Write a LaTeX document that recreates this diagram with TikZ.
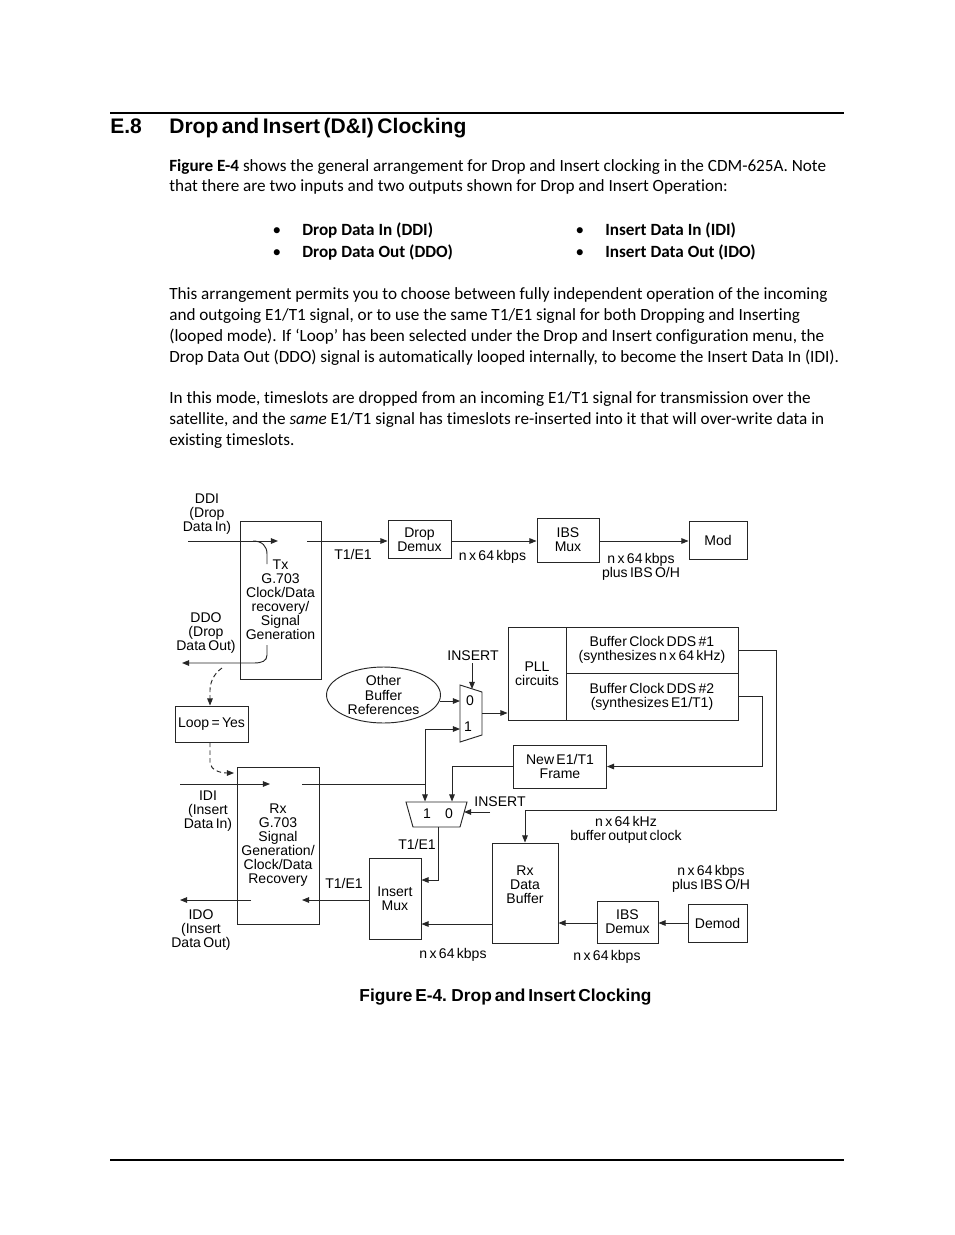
\documentclass[tikz,border=0pt]{standalone}
\usepackage{fontspec}
\setmainfont[Ligatures=NoCommon]{Carlito}
\newfontfamily\arial{Liberation Sans}
\newfontfamily\dfont[WordSpace=0.6]{Liberation Sans}
\usetikzlibrary{arrows.meta,shapes.geometric}
\begin{document}
\begin{tikzpicture}[x=0.64129pt,y=-0.64129pt,
 bx/.style 2 args={draw=black!85, line width=0.6pt, inner sep=0pt,
   minimum width=#1*0.64129pt, minimum height=#2*0.64129pt,
   font=\dfont\fontsize{9}{9}\selectfont, align=center},
 lbl/.style={inner sep=0pt, font=\dfont\fontsize{9}{9}\selectfont, align=center},
 conn/.style={draw=black!85, line width=0.6pt},
 arr/.style={conn, -{Triangle[length=4.6pt,width=3.6pt]}},
 dsh/.style={arr, dash pattern=on 3pt off 2pt},
 bodyt/.style={anchor=base west, inner sep=0pt, font=\fontsize{11}{13}\selectfont},
 bul/.style={anchor=base, inner sep=0pt, font=\fontsize{11}{13}\selectfont},
]
\fill[white] (0,0) rectangle (954,1235);
\useasboundingbox (0,0) rectangle (954,1235);

% page rules
\draw[line width=0.8pt] (110,113) -- (844,113);
\draw[line width=0.9pt] (110,1160) -- (844,1160);

% heading
\node[anchor=base west, inner sep=0pt, font=\arial\bfseries\fontsize{13.5}{16}\selectfont] (h1) at (110,133.5) {E.8};
\node[anchor=base west, inner sep=0pt, font=\arial\bfseries\fontsize{13.5}{16}\selectfont] (h2) at (169,133.5) {Drop and Insert (D\&I) Clocking};

% body text
\node[bodyt] (l1) at (169,172) {\textbf{Figure E-4} shows the general arrangement for Drop and Insert clocking in the CDM-625A. Note};
\node[bodyt] (l2) at (169,192) {that there are two inputs and two outputs shown for Drop and Insert Operation:};
\node[bul] (b1) at (277,235) {•};
\node[bul] (b2) at (277,257) {•};
\node[bul] (b3) at (580,235) {•};
\node[bul] (b4) at (580,257) {•};
\node[bodyt] (t1) at (302,235) {\textbf{Drop Data In (DDI)}};
\node[bodyt] (t2) at (302,257) {\textbf{Drop Data Out (DDO)}};
\node[bodyt] (t3) at (605,235) {\textbf{Insert Data In (IDI)}};
\node[bodyt] (t4) at (605,257) {\textbf{Insert Data Out (IDO)}};
\node[bodyt] (p1) at (169,299) {This arrangement permits you to choose between fully independent operation of the incoming};
\node[bodyt] (p2) at (169,320) {and outgoing E1/T1 signal, or to use the same T1/E1 signal for both Dropping and Inserting};
\node[bodyt] (p3) at (169,341) {(looped mode). If ‘Loop’ has been selected under the Drop and Insert configuration menu, the};
\node[bodyt] (p4) at (169,362) {Drop Data Out (DDO) signal is automatically looped internally, to become the Insert Data In (IDI).};
\node[bodyt] (q1) at (169,403) {In this mode, timeslots are dropped from an incoming E1/T1 signal for transmission over the};
\node[bodyt] (q2) at (169,424) {satellite, and the \textit{same} E1/T1 signal has timeslots re-inserted into it that will over-write data in};
\node[bodyt] (q3) at (169,445) {existing timeslots.};

% ---------- diagram blocks ----------
\node[bx={81}{158}] (tx) at (280.5,600) {Tx\\G.703\\Clock/Data\\recovery/\\Signal\\Generation};
\node[bx={82}{157}] (rx) at (278,845.5) {Rx\\G.703\\Signal\\Generation/\\Clock/Data\\Recovery};
\node[bx={63}{38}] (dd) at (419.5,539.5) {Drop\\Demux};
\node[bx={62}{44}] (ibsm) at (568,540) {IBS\\Mux};
\node[bx={58}{38}] (mod) at (718,540.5) {Mod};
\node[bx={58}{93}] (pll) at (537,673.5) {PLL\\circuits};
\node[bx={172}{46}] (dds1) at (652,650) {Buffer Clock DDS \#1\\(synthesizes n x 64 kHz)};
\node[bx={172}{47}] (dds2) at (652,696.5) {Buffer Clock DDS \#2\\(synthesizes E1/T1)};
\node[bx={114}{56}, ellipse] (other) at (383.5,695) {Other\\Buffer\\References};
\node[bx={73}{36}] (loop) at (211.5,724) {Loop = Yes};
\node[bx={93}{43}] (nf) at (560,766.5) {New E1/T1\\Frame};
\node[bx={52}{81}] (im) at (395,898.5) {Insert\\Mux};
\node[bx={66}{100}] (rdb) at (525,893) {};
\node[lbl] (rdbt) at (525,885) {Rx\\Data\\Buffer};
\node[bx={61}{42}] (ibsd) at (627.5,922) {IBS\\Demux};
\node[bx={59}{38}] (demod) at (717.5,923) {Demod};

% multiplexers
\coordinate (ua) at (460,685); \coordinate (ub) at (482,692);
\coordinate (uc) at (482,735); \coordinate (ud) at (460,742);
\draw[conn] (ua) -- (ub) -- (uc) -- (ud) -- cycle;
\node[lbl] (u0) at (470,701) {0};
\node[lbl] (u1) at (468,727) {1};
\coordinate (la) at (406,802); \coordinate (lb) at (467,802);
\coordinate (lc) at (460,827); \coordinate (ld) at (413,827);
\draw[conn] (la) -- (lb) -- (lc) -- (ld) -- cycle;
\node[lbl] (l1b) at (427,814) {1};
\node[lbl] (l0b) at (449,814) {0};

% ---------- labels ----------
\node[lbl] (ddi) at (207,514) {DDI\\(Drop\\Data In)};
\node[lbl] (ddo) at (206,633) {DDO\\(Drop\\Data Out)};
\node[lbl] (idi) at (208,811) {IDI\\(Insert\\Data In)};
\node[lbl] (ido) at (201,930) {IDO\\(Insert\\Data Out)};
\node[lbl] (te1) at (353,554) {T1/E1};
\node[lbl] (nk1) at (492.5,557) {n x 64 kbps};
\node[lbl] (nk2) at (641,567) {n x 64 kbps\\plus IBS O/H};
\node[lbl] (ins1) at (473,656) {INSERT};
\node[lbl] (ins2) at (500,802) {INSERT};
\node[lbl] (te2) at (417,844) {T1/E1};
\node[lbl] (te3) at (344,883) {T1/E1};
\node[lbl] (khz) at (626,830) {n x 64 kHz\\buffer output clock};
\node[lbl] (nk3) at (711,879) {n x 64 kbps\\plus IBS O/H};
\node[lbl] (nk4) at (453,955) {n x 64 kbps};
\node[lbl] (nk5) at (607,957) {n x 64 kbps};
\node[inner sep=0pt, font=\arial\bfseries\fontsize{11.1}{13}\selectfont] (cap) at (505.5,997) {Figure E-4. Drop and Insert Clocking};

% ---------- connectors ----------
% drop path
\coordinate (ddiin) at (188,541); \coordinate (ddiend) at (278,541);
\draw[arr] (ddiin) -- (ddiend);
\coordinate (c1s) at (253,541); \coordinate (c1e) at (267,564);
\draw[conn] (c1s) .. controls (262,541) and (267,546) .. (267,554) -- (c1e);
\coordinate (txout) at (307,541);
\draw[arr] (txout) -- (txout -| dd.west);
\draw[arr] (dd.east |- txout) -- (ibsm.west |- txout);
\draw[arr] (ibsm.east |- txout) -- (mod.west |- txout);
% DDO
\coordinate (c2s) at (267,645); \coordinate (ddoout) at (182,663);
\draw[arr] (c2s) -- (267,655) .. controls (267,661) and (262,663) .. (254,663) -- (ddoout);
% loop dashed
\coordinate (d1s) at (222,668);
\draw[dsh] (d1s) .. controls (213,674) and (210,684) .. (210,690) -- (loop.north -| 210,0);
\coordinate (d2e) at (234,773);
\draw[dsh] (loop.south -| 210,0) -- (210,763) .. controls (211,770) and (220,773) .. (d2e);
% insert path
\coordinate (idiin) at (180,784); \coordinate (idiend) at (270,784);
\draw[arr] (idiin) -- (idiend);
\coordinate (rxout) at (302,784); \coordinate (j1) at (425,784);
\draw[conn] (rxout) -- (j1);
\draw[arr] (j1) |- (460,729);
\draw[arr] (j1) -- (425,801.5);
\draw[arr] (472,663) -- (472,689);
\coordinate (oe) at (439.5,701);
\draw[arr] (oe) -- (460,701);
\draw[arr] (482,713) -- (pll.west |- 0,713);
\draw[arr] (dds1.east) -- (776,650) -- (776,810) -- (525,810) -- (rdb.north);
\draw[arr] (dds2.east) -| (762,766.5) -- (nf.east);
\draw[arr] (nf.west) -| (452,801.5);
\coordinate (insin) at (490,812);
\draw[arr] (insin) -- (464,812);
\draw[arr] (438,827) |- (im.east |- 0,880);
\coordinate (rxin) at (302,900);
\draw[arr] (im.west |- rxin) -- (rxin);
\coordinate (idos) at (251,900); \coordinate (idoe) at (180,900);
\draw[arr] (idos) -- (idoe);
\draw[arr] (rdb.west |- 0,924) -- (im.east |- 0,924);
\draw[arr] (ibsd.west |- 0,923) -- (rdb.east |- 0,923);
\draw[arr] (demod.west) -- (ibsd.east |- demod.west);
\end{tikzpicture}
\end{document}
